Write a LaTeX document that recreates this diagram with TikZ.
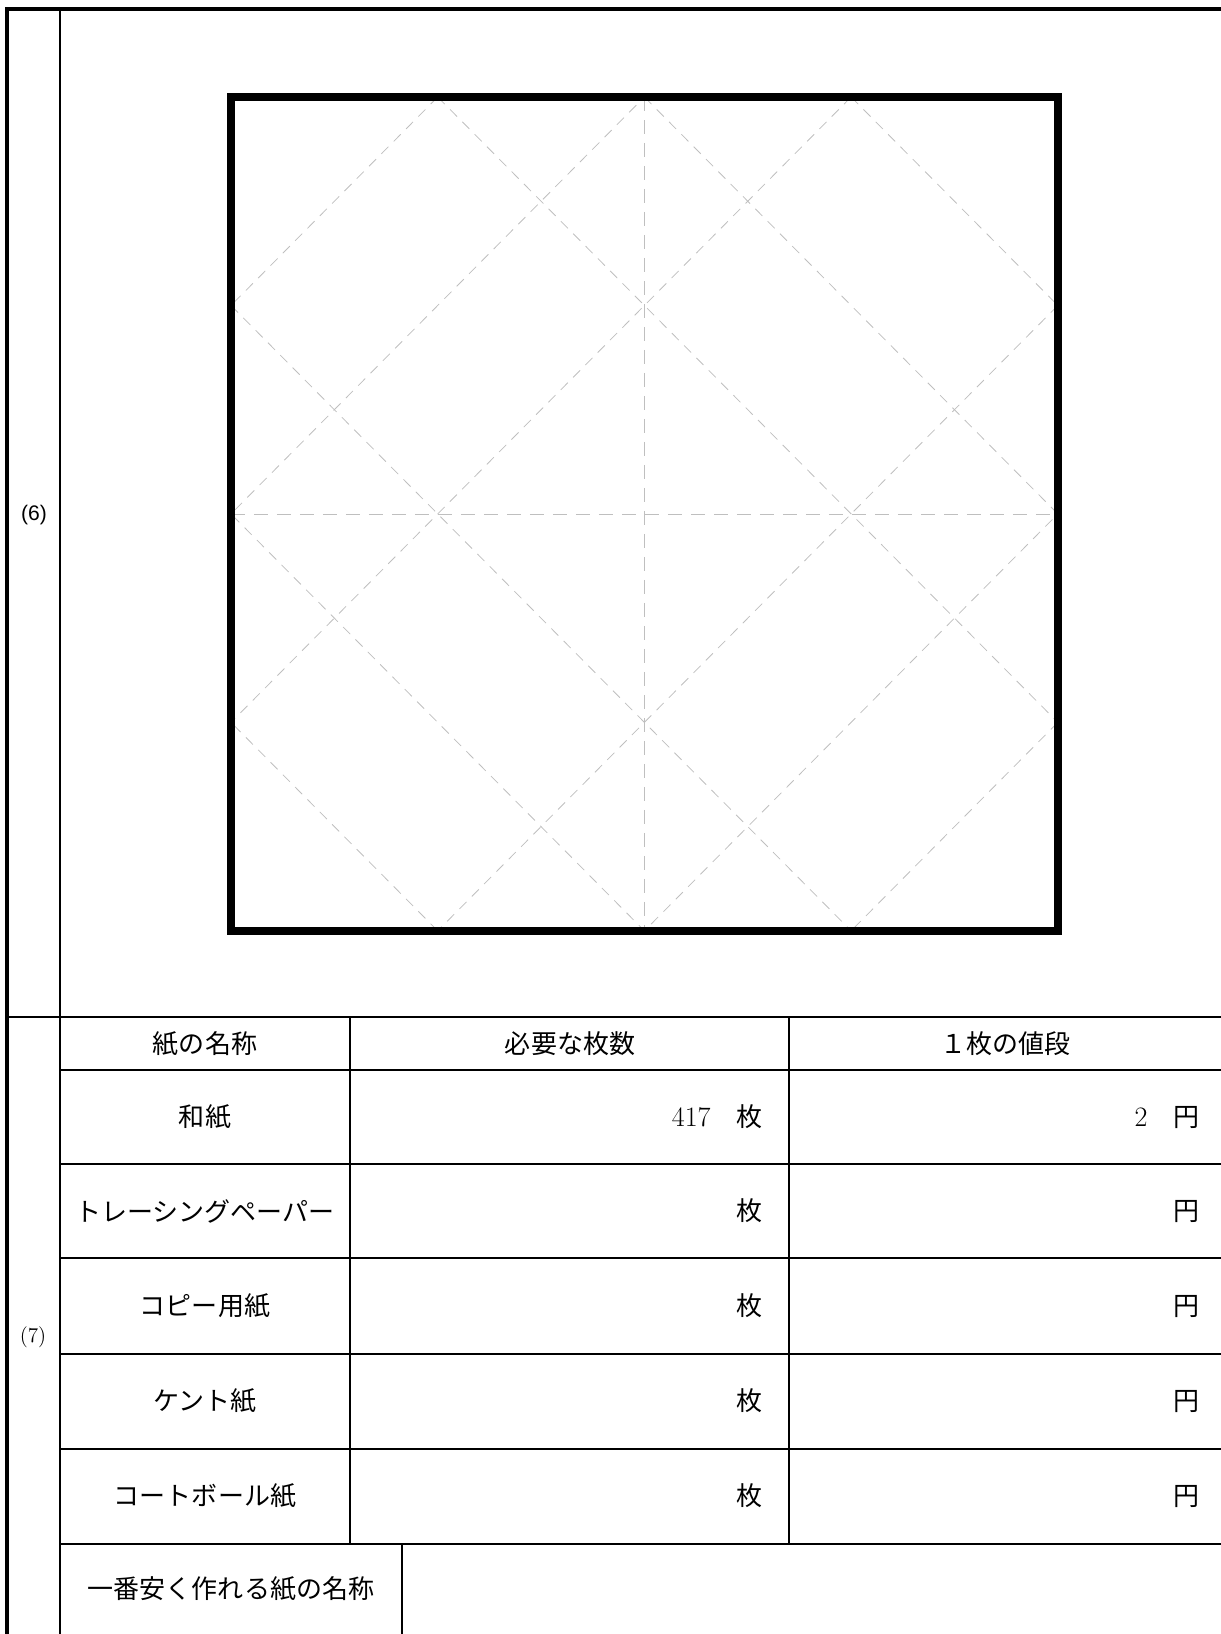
\documentclass[tikz,border=0pt]{standalone}
\usepackage{fontspec}
\newfontfamily\jp{Noto Sans CJK JP}
\newfontfamily\arialike{Liberation Sans}

\begin{document}
\begin{tikzpicture}[x=0.02cm, y=-0.02cm,
	heavy/.style={line width=2.3pt},
	rule/.style={line width=0.8pt},
	guide/.style={gray!50, line width=0.45pt, dash pattern=on 0.2cm off 0.15cm},
	centre/.style={gray!50, line width=0.45pt, dash pattern=on 0.28cm off 0.18cm},
	cell/.style={font=\jp\fontsize{14.8}{18}\selectfont, inner sep=0pt},
	qlabel/.style={font=\fontsize{12}{14}\selectfont, inner sep=0pt}]
	\useasboundingbox (0,0) rectangle (1221,1634);
	% frame and table rules
	\draw[heavy] (7,1634) -- (7,9) -- (1221,9);
	\draw[rule] (60,9) -- (60,1634);
	\draw[rule] (7,1017) -- (1221,1017);
	\foreach \y in {1070,1164,1258,1354,1449,1544}
		\draw[rule] (60,\y) -- (1221,\y);
	\draw[rule] (350,1017) -- (350,1544) (789,1017) -- (789,1544) (402,1544) -- (402,1634);
	% folding guides of the square
	\begin{scope}[shift={(231,97)}, x=4.135cm, y=-4.17cm]
		\foreach \a/\b/\c/\d in {1/0/0/1, 3/0/4/1, 4/3/3/4, 1/4/0/3, 1/0/4/3, 3/0/0/3, 0/1/3/4, 4/1/1/4}
			\draw[guide] (\a,\b) -- (\c,\d);
		\draw[guide] (2,0) -- (4,2) -- (2,4) -- (0,2) -- cycle;
		\draw[centre] (2,0) -- (2,4) (0,2) -- (4,2);
	\end{scope}
	\draw[line width=4.5pt] (231,97) rectangle (1058,931);
	% labels
	\node[qlabel, font=\arialike\fontsize{12}{14}\selectfont] (q6) at (34,515) {(6)};
	\node[qlabel] (q7) at (33,1337) {(7)};
	\node[cell] (hname) at (205,1044) {紙の名称};
	\node[cell] (hcount) at (570,1044) {必要な枚数};
	\node[cell] (hprice) at (1005,1044) {１枚の値段};
	\node[cell] (washi) at (205,1117) {和紙};
	\node[cell] (tracing) at (205,1211) {トレーシングペーパー};
	\node[cell] (copy) at (205,1306) {コピー用紙};
	\node[cell] (kent) at (205,1401) {ケント紙};
	\node[cell] (coat) at (205,1496) {コートボール紙};
	\node[cell] (cheap) at (231,1589) {一番安く作れる紙の名称};
	\node[cell, anchor=east] (washin) at (763,1117) {{\rmfamily\fontsize{16}{18}\selectfont 417}\quad 枚};
	\node[cell, anchor=east] (waship) at (1200,1117) {{\rmfamily\fontsize{16}{18}\selectfont 2}\quad 円};
	\foreach \r/\y in {tracing/1211, copy/1306, kent/1401, coat/1496} {
		\node[cell, anchor=east] (\r n) at (763,\y) {枚};
		\node[cell, anchor=east] (\r p) at (1200,\y) {円};
	}
\end{tikzpicture}
\end{document}
